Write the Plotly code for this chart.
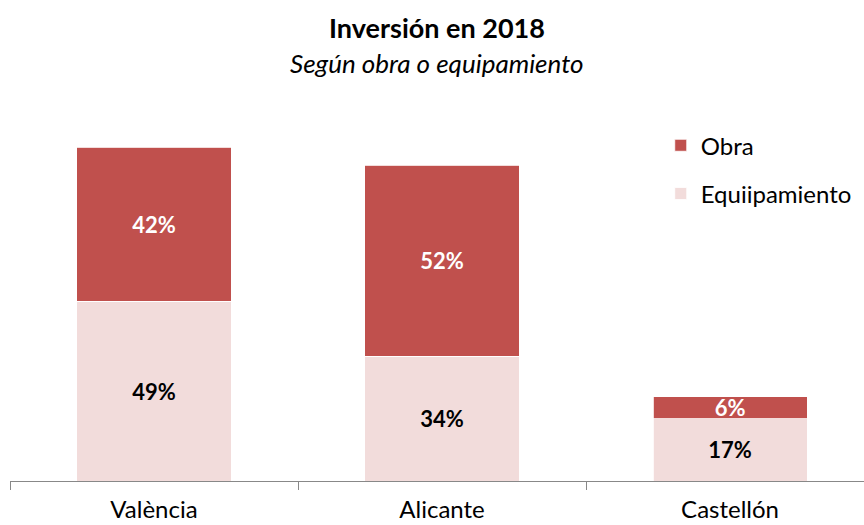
import plotly.graph_objects as go

categories = ["València", "Alicante", "Castellón"]
equipamiento = [49, 34, 17]
obra = [42, 52, 6]
equip_labels = ["49%", "34%", "17%"]
obra_labels = ["42%", "52%", "6%"]

FONT = "Lato, Calibri, Carlito, sans-serif"

fig = go.Figure()
fig.add_trace(go.Bar(
    x=categories, y=equipamiento, name="Equiipamiento",
    marker=dict(color="#F2DCDB", line=dict(color="white", width=0.8)),
    text=equip_labels, textposition="inside", insidetextanchor="middle",
    constraintext="none",
    textfont=dict(family=FONT, size=22, color="black", weight="bold"),
    legendgroup="b", legendrank=2, hoverinfo="skip",
))
fig.add_trace(go.Bar(
    x=categories, y=obra, name="Obra",
    marker=dict(color="#C0504D", line=dict(color="white", width=0.8)),
    text=obra_labels, textposition="inside", insidetextanchor="middle",
    constraintext="none",
    textfont=dict(family=FONT, size=22, color="white", weight="bold"),
    legendgroup="a", legendrank=1, hoverinfo="skip",
))

fig.update_layout(
    width=864, height=525,
    barmode="stack", bargap=0.465,
    paper_bgcolor="white", plot_bgcolor="white",
    margin=dict(l=10, r=0, t=114, b=44, autoexpand=False),
    font=dict(family=FONT, size=24, color="black"),
    title=dict(
        text="<b>Inversión en 2018</b>",
        x=0.5, xanchor="center", xref="paper", y=1 - 29 / 525, yanchor="middle",
        font=dict(family=FONT, size=27, color="black"),
    ),
    annotations=[dict(
        text="<i>Según obra o equipamiento</i>", xref="paper", yref="paper",
        x=0.5, y=1 + (481 - 63 - 367) / 367, xanchor="center", yanchor="middle",
        showarrow=False, font=dict(family=FONT, size=26, color="black"),
    )],
    legend=dict(
        x=0.762, xanchor="left", y=0.975, yanchor="top",
        traceorder="grouped", tracegroupgap=14,
        font=dict(family=FONT, size=24, color="black"),
        itemwidth=30, bgcolor="rgba(0,0,0,0)",
    ),
    xaxis=dict(
        range=[-0.5, 2.465], showline=True, linecolor="#888888", linewidth=1,
        ticks="outside", ticklen=8, tickcolor="#888888", tickson="boundaries",
        tickfont=dict(family=FONT, size=24, color="black"),
        showgrid=False, zeroline=False, ticklabelstandoff=7, automargin=False,
    ),
    yaxis=dict(range=[0, 100], visible=False, showgrid=False, zeroline=False,
               automargin=False),
)

fig.write_html(
    "out.html",
    config={"displayModeBar": False},
    post_script="document.body.style.margin='0';document.documentElement.style.overflow='hidden';window.dispatchEvent(new Event('resize'));",
)
